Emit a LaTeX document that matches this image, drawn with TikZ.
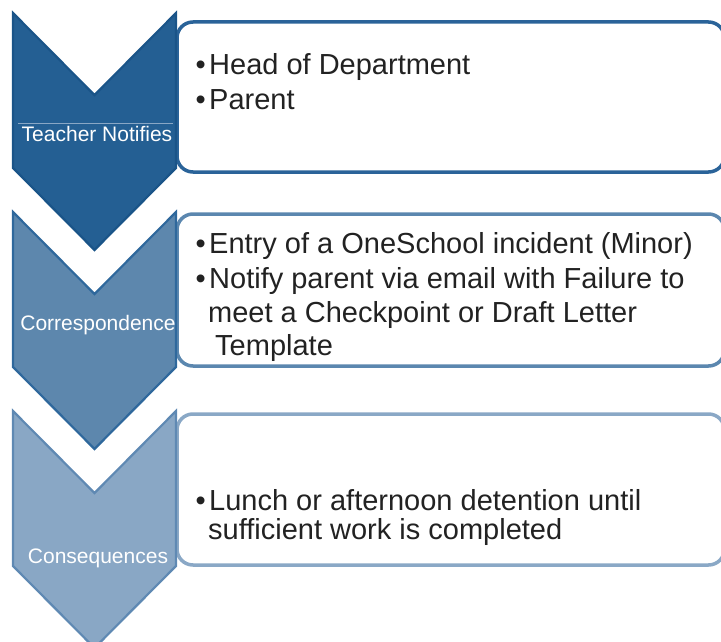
\documentclass[tikz,border=0pt]{standalone}
\usepackage{fontspec}
\setmainfont{Liberation Sans}
\definecolor{chevA}{HTML}{245F93}
\definecolor{chevAb}{HTML}{1A5488}
\definecolor{chevB}{HTML}{5D87AD}
\definecolor{chevBb}{HTML}{2F689C}
\definecolor{chevC}{HTML}{89A7C5}
\definecolor{chevCb}{HTML}{5F89B3}
\definecolor{boxA}{HTML}{2A6399}
\definecolor{boxB}{HTML}{5B87AF}
\definecolor{boxC}{HTML}{8AA8C6}
\definecolor{txt}{HTML}{222222}
\tikzset{
  chevshape/.style={line width=2.2pt, line join=miter},
  boxshape/.style={line width=3.5pt, fill=white, rounded corners=16pt},
  chevlabel/.style={text=white, font=\fontsize{21}{25}\selectfont, anchor=base, inner sep=0pt},
  bulletmark/.style={text=txt, font=\fontsize{29}{34}\selectfont, anchor=base east, inner sep=0pt},
  itemtext/.style={text=txt, font=\fontsize{29}{34}\selectfont, anchor=base west, inner sep=0pt},
}
\begin{document}
\begin{tikzpicture}[x=1pt,y=-1pt]
\useasboundingbox (0,0) rectangle (721,642);
\clip (0,0) rectangle (721,642);
% boxes
\draw[boxshape, draw=boxA] (177,22) rectangle (724.5,172);
\draw[boxshape, draw=boxB] (177,214) rectangle (724.5,366);
\draw[boxshape, draw=boxC] (177,414) rectangle (724.5,565);
% chevrons
\foreach \t/\f/\b in {13/chevA/chevAb, 212/chevB/chevBb, 411/chevC/chevCb}{
  \draw[chevshape, fill=\f, draw=\b]
    (13,\t) -- (94.5,\t+82) -- (176,\t) -- (176,\t+155) -- (94.5,\t+237) -- (13,\t+155) -- cycle;
}
\draw[line width=0.8pt, draw=chevC] (18,123) -- (173,123);
% chevron labels
\node[chevlabel] (l1) at (97,141) {Teacher Notifies};
\node[chevlabel] (l2) at (98,330) {Correspondence};
\node[chevlabel] (l3) at (98,563) {Consequences};
% box 1 text
\node[bulletmark] (b11) at (206,75) {•};
\node[itemtext] (t11) at (209,75) {Head of Department};
\node[bulletmark] (b12) at (206,110) {•};
\node[itemtext] (t12) at (209,110) {Parent};
% box 2 text
\node[bulletmark] (b21) at (206,253) {•};
\node[itemtext] (t21) at (209,253) {Entry of a OneSchool incident (Minor)};
\node[bulletmark] (b22) at (206,288) {•};
\node[itemtext] (t22) at (209,288) {Notify parent via email with Failure to};
\node[itemtext] (t23) at (208,322) {meet a Checkpoint or Draft Letter};
\node[itemtext] (t24) at (215,355) {Template};
% box 3 text
\node[bulletmark] (b31) at (206,510) {•};
\node[itemtext] (t31) at (209,510) {Lunch or afternoon detention until};
\node[itemtext] (t32) at (208,539) {sufficient work is completed};
\end{tikzpicture}
\end{document}
